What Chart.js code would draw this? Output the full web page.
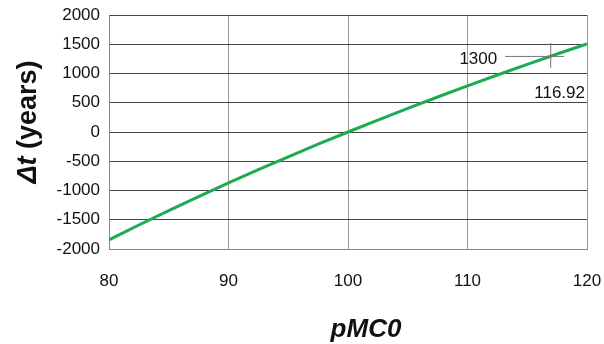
<!DOCTYPE html>
<html><head><meta charset="utf-8">
<script src="https://cdn.jsdelivr.net/npm/chart.js@4/dist/chart.umd.min.js"></script>
<style>html,body{margin:0;padding:0;background:#fff}#wrap{width:604px;height:344px}</style>
</head><body><div id="wrap"><canvas id="c" width="604" height="344"></canvas></div>
<script>
const pmc = [80, 82.5, 85, 87.5, 90, 92.5, 95, 97.5, 100, 102.5, 105, 107.5, 110, 112.5, 115, 117.5, 120];
const deltaT = [-1845, -1590, -1344, -1104, -871, -645, -424, -209, 0, 204, 403, 598, 788, 974, 1155, 1333, 1507];
const yTicks = [-2000, -1500, -1000, -500, 0, 500, 1000, 1500, 2000];
const xTicks = [80, 90, 100, 110, 120];
const markX = 116.92, markY = 1300;
const markLabels = ["1300", "116.92"];
const FONT = "'Liberation Sans', Arial, sans-serif";

const annot = {
  id: 'annot',
  afterDatasetsDraw(chart) {
    const ctx = chart.ctx, xs = chart.scales.x, ys = chart.scales.y;
    const px = xs.getPixelForValue(markX), py = ys.getPixelForValue(markY);
    ctx.save();
    ctx.strokeStyle = '#777'; ctx.lineWidth = 1;
    ctx.beginPath();
    ctx.moveTo(px - 45, py + 0.5); ctx.lineTo(px + 14, py + 0.5);
    ctx.moveTo(px + 0.5, py - 13); ctx.lineTo(px + 0.5, py + 12);
    ctx.stroke();
    ctx.fillStyle = '#111'; ctx.font = '17px ' + FONT;
    ctx.textBaseline = 'middle';
    ctx.textAlign = 'right';
    ctx.fillText(markLabels[0], px - 53, py + 3);
    ctx.fillText(markLabels[1], xs.right - 2, py + 37);
    ctx.restore();
  },
  afterDraw(chart) {
    const ctx = chart.ctx, a = chart.chartArea;
    ctx.save();
    ctx.translate(29, 122);
    ctx.rotate(-Math.PI / 2);
    ctx.fillStyle = '#111';
    ctx.textBaseline = 'middle';
    const f1 = 'italic bold 27px ' + FONT, f2 = 'bold 27px ' + FONT;
    const t1 = 'Δt', t2 = ' (years)';
    ctx.font = f1; const w1 = ctx.measureText(t1).width;
    ctx.font = f2; const w2 = ctx.measureText(t2).width;
    let x0 = -(w1 + w2) / 2;
    ctx.textAlign = 'left';
    ctx.font = f1; ctx.fillText(t1, x0, 0);
    ctx.font = f2; ctx.fillText(t2, x0 + w1, 0);
    ctx.restore();
    ctx.save();
    ctx.fillStyle = '#111';
    ctx.font = 'italic bold 26px ' + FONT;
    ctx.textAlign = 'center'; ctx.textBaseline = 'middle';
    ctx.fillText('pMC0', 366, 330);
    ctx.restore();
  }
};

new Chart(document.getElementById('c'), {
  type: 'line',
  data: { datasets: [{
    data: pmc.map((x, i) => ({x: x, y: deltaT[i]})),
    borderColor: '#1bab52', borderWidth: 3, pointRadius: 0,
    cubicInterpolationMode: 'monotone', fill: false
  }]},
  options: {
    responsive: false, animation: false,
    layout: { padding: { top: 15, right: 17, left: 0, bottom: 0 } },
    plugins: { legend: { display: false }, tooltip: { enabled: false } },
    scales: {
      x: {
        type: 'linear', min: 80, max: 120,
        afterBuildTicks: s => { s.ticks = xTicks.map(v => ({value: v})); },
        afterFit: s => { s.height = 95; s.paddingRight = 0; s.paddingLeft = 0; },
        grid: { color: '#999', lineWidth: 1, drawTicks: false },
        border: { color: '#888' },
        ticks: { color: '#111', font: { family: FONT, size: 17 }, padding: 22, maxRotation: 0,
                 callback: v => String(v) }
      },
      y: {
        min: -2000, max: 2000,
        afterBuildTicks: s => { s.ticks = yTicks.map(v => ({value: v})); },
        afterFit: s => { s.width = 109; s.paddingTop = 0; s.paddingBottom = 0; },
        grid: { color: '#444', lineWidth: 1, drawTicks: true, tickLength: 5, tickColor: 'rgba(0,0,0,0)' },
        border: { color: '#888' },
        ticks: { color: '#111', font: { family: FONT, size: 17 }, padding: 4,
                 callback: v => String(v) }
      }
    }
  },
  plugins: [annot]
});
</script></body></html>
